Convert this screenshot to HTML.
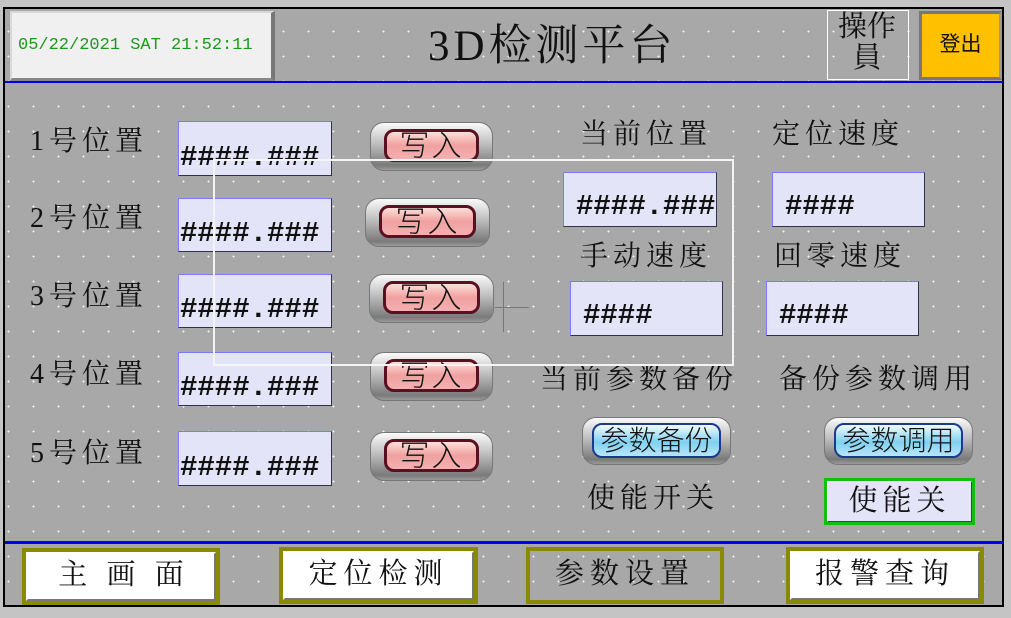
<!DOCTYPE html>
<html><head><meta charset="utf-8"><style>
*{margin:0;padding:0;box-sizing:border-box}
body{width:1011px;height:618px;background:#c4c4c4;position:relative;overflow:hidden;font-family:"Liberation Serif","Noto Serif CJK SC",serif;color:#111}
.a{position:absolute}
#panel{left:3px;top:7px;width:1001px;height:600px;border:2px solid #000;background-color:#a8a8a8;background-image:radial-gradient(circle,#f4f4f4 0.8px,transparent 1.1px);background-size:25px 25px;background-position:16px 10px}
.t{position:absolute;white-space:nowrap;line-height:1}
.lbl{font-size:28px;letter-spacing:5px}
.inp{position:absolute;background:#e4e4f8;border:1px solid #7a7aff;border-right-color:#303050;border-bottom-color:#303050;font-family:"Liberation Mono",monospace;font-weight:bold;font-size:29px;line-height:1;padding-left:1px;overflow:hidden;white-space:nowrap}
.btn{position:absolute;border-radius:14px;background:linear-gradient(#fafafa,#bdbdbd 45%,#7a7a7a 90%,#9a9a9a);border:1px solid #777}
.btn .in{position:absolute;left:13px;right:13px;top:6px;bottom:8px;border-radius:10px;border:3px solid #5a1020;background:linear-gradient(#fde0d8,#f0a0a0 50%,#f4b0b0);font-size:30px;text-align:center;line-height:30px;font-family:"Liberation Sans","Noto Sans CJK SC",sans-serif;font-weight:300;letter-spacing:2px}
.bb .in{border:2px solid #1a3a8a;background:linear-gradient(#f2fbff,#7fd0f0 55%,#b8e6fa);left:9px;right:9px;top:5px;bottom:6px;line-height:32px;font-size:28px;letter-spacing:0}
.nav{position:absolute;height:57px;border:4px solid #8a8a00;background:#fff;font-size:29px;text-align:center;line-height:47px;letter-spacing:6px}
.nav .i{position:absolute;inset:0;border:2px solid #fff;border-right-color:#777;border-bottom-color:#777}
</style></head><body>
<div id="panel" class="a"></div>
<div class="a" style="left:10px;top:11px;width:265px;height:70px;background:#f0f0f0;border:2px solid #d8d8d8;border-right:4px solid #777;border-bottom:3px solid #888"></div>
<div class="t" style="left:18px;top:37px;font-size:17px;color:#1a9a1a;font-family:'Liberation Mono',monospace">05/22/2021 SAT 21:52:11</div>
<div class="t" style="left:428px;top:25px;font-size:43px;letter-spacing:4px">3D检测平台</div>
<div class="a" style="left:827px;top:10px;width:82px;height:70px;border:1px solid #fff"></div>
<div class="t" style="left:834px;top:12px;font-size:29px;line-height:31px;text-align:center;width:66px;white-space:normal">操作員</div>
<div class="a" style="left:919px;top:11px;width:83px;height:69px;background:#ffc000;border:3px solid #777;border-right-color:#999;font-size:21px;text-align:center;line-height:62px;font-family:'Liberation Sans','Noto Sans CJK SC',sans-serif">登出</div>
<div class="a" style="left:5px;top:81px;width:998px;height:2px;background:#0000ee"></div>
<div class="a" style="left:5px;top:541px;width:998px;height:3px;background:#0000ee"></div>

<div class="t lbl" style="left:30px;top:128px">1号位置</div>
<div class="t lbl" style="left:30px;top:205px">2号位置</div>
<div class="t lbl" style="left:30px;top:283px">3号位置</div>
<div class="t lbl" style="left:30px;top:361px">4号位置</div>
<div class="t lbl" style="left:30px;top:440px">5号位置</div>
<div class="inp" style="left:178px;top:121px;width:154px;height:55px;padding-top:21px">####.###</div>
<div class="inp" style="left:178px;top:198px;width:154px;height:54px;padding-top:20px">####.###</div>
<div class="inp" style="left:178px;top:274px;width:154px;height:54px;padding-top:20px">####.###</div>
<div class="inp" style="left:178px;top:352px;width:154px;height:54px;padding-top:20px">####.###</div>
<div class="inp" style="left:178px;top:431px;width:154px;height:55px;padding-top:21px">####.###</div>

<div class="btn" style="left:370px;top:122px;width:123px;height:49px"><div class="in">写入</div></div>
<div class="btn" style="left:365px;top:198px;width:125px;height:49px"><div class="in">写入</div></div>
<div class="btn" style="left:369px;top:274px;width:125px;height:49px"><div class="in">写入</div></div>
<div class="btn" style="left:370px;top:352px;width:123px;height:49px"><div class="in">写入</div></div>
<div class="btn" style="left:370px;top:432px;width:123px;height:49px"><div class="in">写入</div></div>

<div class="t lbl" style="left:580px;top:121px">当前位置</div>
<div class="t lbl" style="left:772px;top:121px">定位速度</div>
<div class="inp" style="left:563px;top:172px;width:154px;height:55px;padding:19px 0 0 12px">####.###</div>
<div class="inp" style="left:772px;top:172px;width:153px;height:55px;padding:19px 0 0 12px">####</div>
<div class="t lbl" style="left:580px;top:243px">手动速度</div>
<div class="t lbl" style="left:774px;top:243px">回零速度</div>
<div class="inp" style="left:570px;top:281px;width:153px;height:55px;padding:19px 0 0 12px">####</div>
<div class="inp" style="left:766px;top:281px;width:153px;height:55px;padding:19px 0 0 12px">####</div>
<div class="t lbl" style="left:540px;top:366px">当前参数备份</div>
<div class="t lbl" style="left:779px;top:366px">备份参数调用</div>
<div class="btn bb" style="left:582px;top:417px;width:149px;height:48px"><div class="in">参数备份</div></div>
<div class="btn bb" style="left:824px;top:417px;width:149px;height:48px"><div class="in">参数调用</div></div>
<div class="t lbl" style="left:587px;top:485px">使能开关</div>
<div class="a" style="left:824px;top:478px;width:151px;height:47px;border:3px solid #10c010;background:#e4e4f8;font-size:29px;text-align:center;line-height:40px;letter-spacing:5px"><div class="a" style="inset:0;border:1px solid #fff;border-right-color:#0a6a0a;border-bottom-color:#0a6a0a"></div>使能关</div>

<div class="a" style="left:213px;top:159px;width:521px;height:207px;border:2px solid #f4f4f4"></div>
<div class="a" style="left:503px;top:282px;width:1px;height:50px;background:#777"></div>
<div class="a" style="left:495px;top:307px;width:34px;height:1px;background:#777"></div>

<div class="nav" style="left:22px;top:548px;width:198px;letter-spacing:6px;padding-left:6px"><div class="i"></div>主 画 面</div>
<div class="nav" style="left:279px;top:547px;width:199px"><div class="i"></div>定位检测</div>
<div class="nav" style="left:526px;top:547px;width:198px;background:transparent"><div class="i" style="border:none"></div>参数设置</div>
<div class="nav" style="left:786px;top:547px;width:198px"><div class="i"></div>报警查询</div>
</body></html>
